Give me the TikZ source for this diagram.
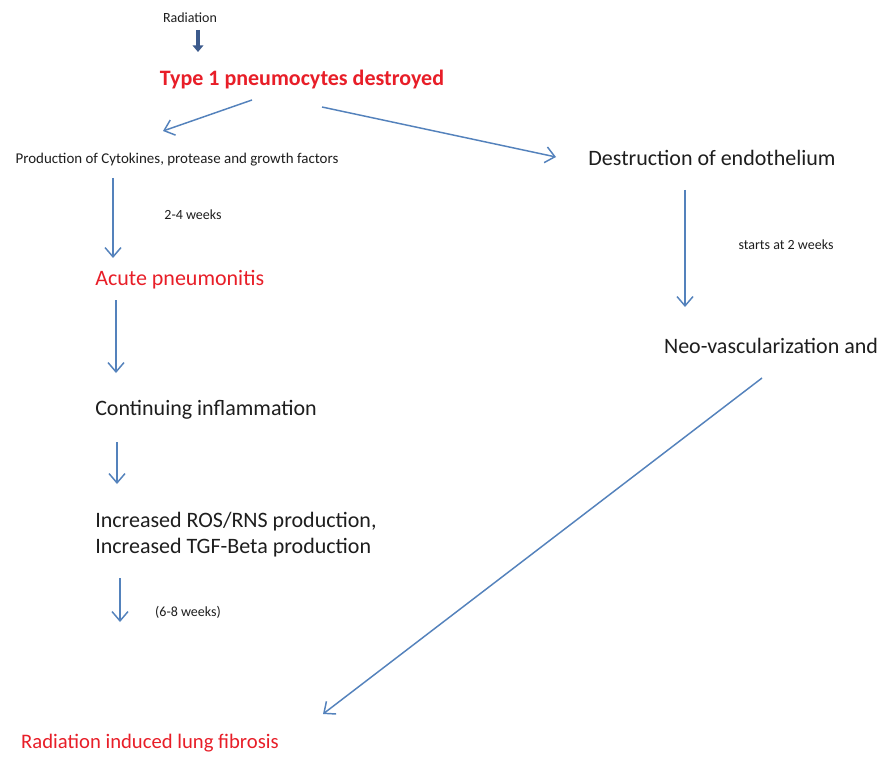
\documentclass[tikz,border=0pt]{standalone}
\usepackage{fontspec}
\setmainfont{Carlito}
\usetikzlibrary{arrows.meta}
\definecolor{arrblue}{RGB}{84,130,188}
\definecolor{darkarr}{RGB}{60,90,140}
\definecolor{redtxt}{RGB}{232,30,40}
\definecolor{txt}{RGB}{30,30,30}
\tikzset{
  arr/.style={draw=arrblue, line width=1.1pt, -{Straight Barb[length=7pt,width=12pt,line width=1.1pt]}},
  big/.style={font=\fontsize{16.5}{20}\selectfont, text=txt, inner sep=0pt},
  small/.style={font=\fontsize{11.2}{13}\selectfont, text=txt, inner sep=0pt},
  tiny/.style={font=\fontsize{10.5}{12}\selectfont, text=txt, inner sep=0pt},
  redt/.style={font=\fontsize{16.5}{20}\selectfont, text=redtxt, inner sep=0pt},
}
\begin{document}
\begin{tikzpicture}[x=0.75pt,y=-0.75pt]
\useasboundingbox[fill=white] (0,0) rectangle (885,763);
\node[tiny] (rad) at (190,18) {Radiation};
\node[redt,font=\fontsize{16.5}{20}\selectfont\bfseries] (type) at (302,80) {Type 1 pneumocytes destroyed};
\node[small] (prod) at (177,160) {Production of Cytokines, protease and growth factors};
\node[big] (destr) at (712,158) {Destruction of endothelium};
\node[tiny] (w24) at (193,215) {2-4 weeks};
\node[redt, anchor=west] (acute) at (95,280) {Acute pneumonitis};
\node[tiny] (st2) at (786,245) {starts at 2 weeks};
\node[big] (neo) at (771,346) {Neo-vascularization and};
\node[big, anchor=west] (cont) at (95,410) {Continuing inflammation};
\node[big, anchor=west, align=left, font=\fontsize{16.5}{19.5}\selectfont] (ros) at (95,535) {Increased ROS/RNS production,\\Increased TGF-Beta production};
\node[tiny] (w68) at (188,612) {(6-8 weeks)};
\node[redt, font=\fontsize{15.5}{18}\selectfont] (fib) at (150,743) {Radiation induced lung fibrosis};

\coordinate (a0s) at (198,30); \coordinate (a0e) at (198,52);
\coordinate (a1s) at (252,100); \coordinate (a1e) at (163,131);
\coordinate (a2s) at (322,107); \coordinate (a2e) at (556,157);
\coordinate (a3s) at (113,178); \coordinate (a3e) at (113,258);
\coordinate (a4s) at (685,190); \coordinate (a4e) at (685,307);
\coordinate (a5s) at (116,300); \coordinate (a5e) at (116,373);
\coordinate (a6s) at (117,442); \coordinate (a6e) at (117,484);
\coordinate (a7s) at (120,578); \coordinate (a7e) at (120,622);
\coordinate (a8s) at (762,378); \coordinate (a8e) at (323,714);

\draw[draw=darkarr, line width=3pt, -{Triangle[length=5pt,width=8pt]}] (a0s) -- (a0e);
\draw[arr] (a1s) -- (a1e);
\draw[arr] (a2s) -- (a2e);
\draw[arr] (a3s) -- (a3e);
\draw[arr] (a4s) -- (a4e);
\draw[arr] (a5s) -- (a5e);
\draw[arr] (a6s) -- (a6e);
\draw[arr] (a7s) -- (a7e);
\draw[arr] (a8s) -- (a8e);
\end{tikzpicture}
\end{document}
